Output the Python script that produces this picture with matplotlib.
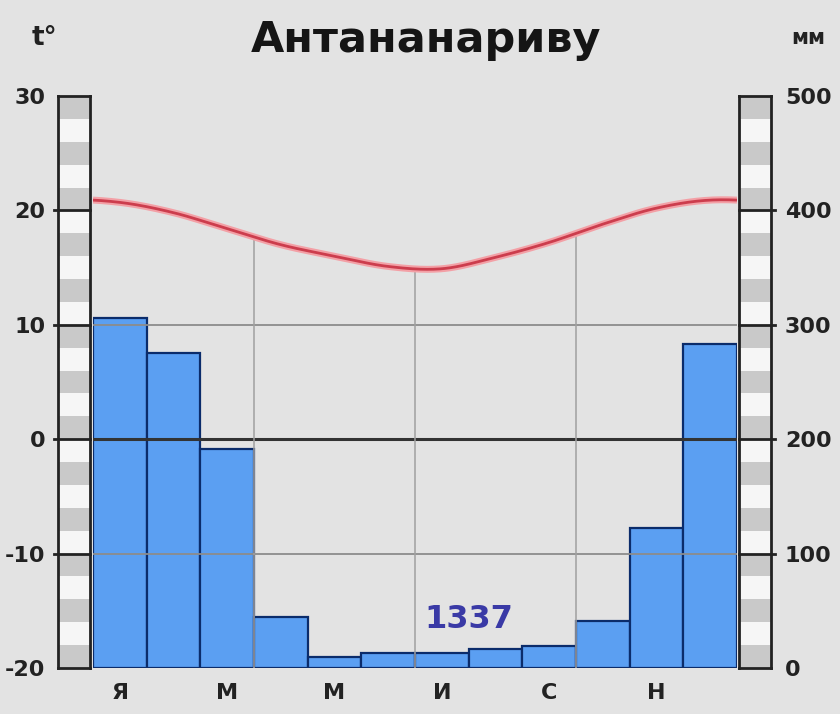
import numpy as np
import matplotlib
matplotlib.use("Agg")
import matplotlib.pyplot as plt
from matplotlib import font_manager

# ---- data ----
months = ["Я", "Ф", "М", "А", "М", "И", "И", "А", "С", "О", "Н", "Д"]
tick_months = [0, 2, 4, 6, 8, 10]
tick_labels = ["Я", "М", "М", "И", "С", "Н"]
precip = [306, 275, 191, 45, 10, 13, 13, 17, 19, 41, 122, 283]
temp = [20.7, 19.8, 18.4, 17.0, 16.0, 15.1, 14.9, 15.9, 17.2, 18.8, 20.2, 20.9]
total_label = "1337"
title = "Антананариву"
temp_ticks = [-20, -10, 0, 10, 20, 30]
precip_ticks = [0, 100, 200, 300, 400, 500]

installed = {f.name for f in font_manager.fontManager.ttflist}
narrow = "Liberation Sans Narrow" if "Liberation Sans Narrow" in installed else None

BG = "#e3e3e3"
W, H = 840, 714
fig = plt.figure(figsize=(W / 100, H / 100), dpi=100, facecolor=BG)

def fx(px):
    return px / W

def fy(py):
    return 1 - py / H

top, bot = 96, 668
ax_p = fig.add_axes([fx(93), fy(bot), fx(737 - 93), (bot - top) / H])
ax_p.set_facecolor("none")
x = np.arange(len(precip))
ax_p.bar(x, precip, width=1.0, color="#5b9ff2", edgecolor="#0b2c6b",
         linewidth=1.6, zorder=2)
ax_p.set_xlim(-0.5, 11.5)
ax_p.set_ylim(0, 500)
for s in ax_p.spines.values():
    s.set_visible(False)
ax_p.set_yticks([])
ax_p.set_xticks(tick_months)
ax_p.set_xticklabels(tick_labels, fontsize=16, fontweight="bold", color="#222222")
ax_p.tick_params(axis="x", length=0, pad=11)
if narrow:
    ax_p.text(6.5, 42, total_label, ha="center", va="center", fontsize=29,
              fontweight="bold", color="#3a3aa6", family=narrow, zorder=5)
else:
    ax_p.text(6.5, 42, total_label, ha="center", va="center", fontsize=23,
              fontweight="bold", color="#3a3aa6", zorder=5)

ax_t = ax_p.twinx()
ax_t.set_ylim(-20, 30)
ax_t.set_xlim(-0.5, 11.5)
ax_t.set_yticks([])
for s in ax_t.spines.values():
    s.set_visible(False)

# smooth periodic curve through monthly temperatures (Catmull-Rom)
n = len(temp)
xs = np.arange(-2, n + 2)
ys = np.array([temp[i % n] for i in xs])

def smooth(xq):
    out = np.empty_like(xq)
    for k, q in enumerate(xq):
        i = int(np.floor(q)) - xs[0]
        t = q - xs[i]
        p0, p1, p2, p3 = ys[i - 1], ys[i], ys[i + 1], ys[i + 2]
        out[k] = 0.5 * (2 * p1 + (-p0 + p2) * t + (2 * p0 - 5 * p1 + 4 * p2 - p3) * t ** 2
                        + (-p0 + 3 * p1 - 3 * p2 + p3) * t ** 3)
    return out

xf = np.linspace(-0.5, 11.5, 400)
yf = smooth(xf)

for v in [10, -10]:
    ax_t.axhline(v, color="#8c8c8c", lw=1.3, zorder=3)
ax_t.axhline(0, color="#333333", lw=2.2, zorder=3)
for b in [2.5, 5.5, 8.5]:
    ax_t.plot([b, b], [-20, smooth(np.array([b]))[0]], color="#a0a0a0", lw=1.1, zorder=3)

ax_t.plot(xf, yf, color="#f3a0a6", lw=5, zorder=4, solid_capstyle="butt")
ax_t.plot(xf, yf, color="#cc3d4d", lw=2, zorder=5, solid_capstyle="butt")

# striped scale bars
def scale_bar(left_px, vmin, vmax, ticks, side):
    a = fig.add_axes([fx(left_px), fy(bot), fx(32), (bot - top) / H])
    a.set_xlim(0, 1)
    a.set_ylim(vmin, vmax)
    step = (vmax - vmin) / 25
    for k in range(25):
        lo = vmax - (k + 1) * step
        a.axhspan(lo, lo + step, color="#c9c9c9" if k % 2 == 0 else "#f6f6f6", lw=0)
    for t in ticks[1:-1]:
        if side == "left":
            a.plot([-0.12, 1], [t, t], color="#222222", lw=2, clip_on=False)
        else:
            a.plot([0, 1.12], [t, t], color="#222222", lw=2, clip_on=False)
    for s in a.spines.values():
        s.set_linewidth(2)
        s.set_color("#222222")
    a.set_xticks([])
    a.set_yticks(ticks)
    a.set_yticklabels([str(t) for t in ticks], fontsize=16, fontweight="bold",
                      color="#222222")
    if side == "right":
        a.yaxis.tick_right()
        a.tick_params(axis="y", length=0, pad=10)
    else:
        a.tick_params(axis="y", length=0, pad=9)
    return a

scale_bar(58, -20, 30, temp_ticks, "left")
scale_bar(739, 0, 500, precip_ticks, "right")

fig.text(fx(426), fy(40), title, ha="center", va="center", fontsize=31,
         fontweight="bold", color="#151515")
fig.text(fx(44), fy(38), "t°", ha="center", va="center", fontsize=19,
         fontweight="bold", color="#222222")
fig.text(fx(808), fy(38), "мм", ha="center", va="center", fontsize=15,
         fontweight="bold", color="#222222")

fig.savefig("out.png", dpi=100, facecolor=BG)
